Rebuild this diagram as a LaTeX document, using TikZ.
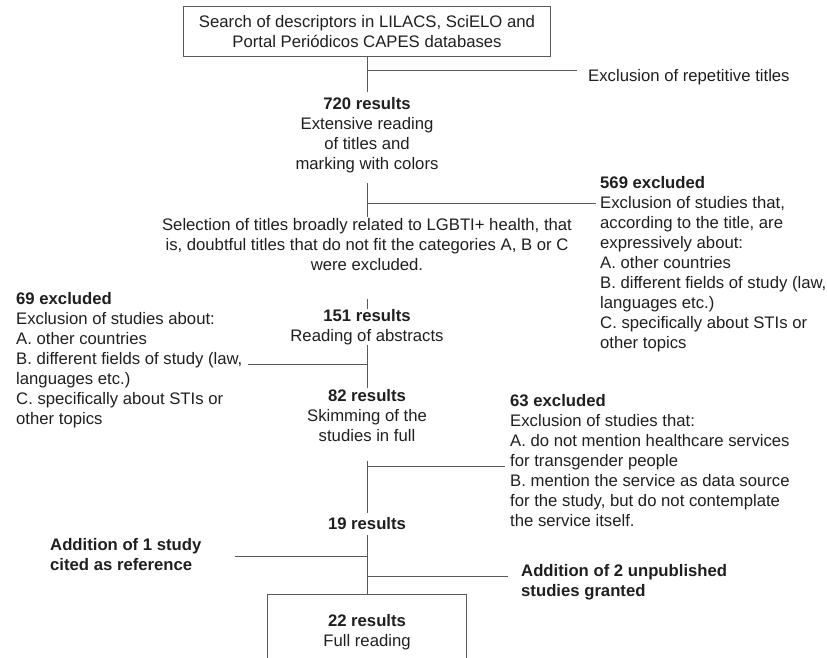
\documentclass[tikz,border=0pt]{standalone}
\usepackage{fontspec}
\setmainfont{Liberation Sans}
\usetikzlibrary{positioning}
\newcommand*{\fsize}{\fontsize{16.7}{20}\selectfont}

\begin{document}
\begin{tikzpicture}[x=1pt,y=-1pt,
    txt/.style={inner sep=0pt,font=\fsize,text=black!88,execute at begin node=\strut},
    mid/.style={txt,align=center,anchor=north},
    side/.style={txt,align=left,anchor=north west},
    frame/.style={draw=black!65,line width=1pt,inner sep=0pt,font=\fsize,text=black!88,align=center},
    link/.style={draw=black!65,line width=1pt}]
    \useasboundingbox (0,0) rectangle (827,658);
    \clip (0,0) rectangle (827,658);
    \node[frame,minimum width=367pt,minimum height=50pt] (search) at (367,32) {Search of descriptors in LILACS, SciELO and\\Portal Periódicos CAPES databases};
    \node[side] (rep) at (588,67) {Exclusion of repetitive titles};
    \node[mid] (r720) at (367,97) {\textbf{720 results}\\Extensive reading\\of titles and\\marking with colors};
    \node[side] (ex569) at (600,176) {\textbf{569 excluded}\\Exclusion of studies that,\\according to the title, are\\expressively about:\\A. other countries\\B. different fields of study (law,\\languages etc.)\\C. specifically about STIs or\\other topics};
    \node[mid] (sel) at (367,218) {Selection of titles broadly related to LGBTI+ health, that\\is, doubtful titles that do not fit the categories A, B or C\\were excluded.};
    \node[side] (ex69) at (16,292) {\textbf{69 excluded}\\Exclusion of studies about:\\A. other countries\\B. different fields of study (law,\\languages etc.)\\C. specifically about STIs or\\other topics};
    \node[mid] (r151) at (367,309) {\textbf{151 results}\\Reading of abstracts};
    \node[mid] (r82) at (367,389) {\textbf{82 results}\\Skimming of the\\studies in full};
    \node[side] (ex63) at (510,394) {\textbf{63 excluded}\\Exclusion of studies that:\\A. do not mention healthcare services\\for transgender people\\B. mention the service as data source\\for the study, but do not contemplate\\the service itself.};
    \node[mid] (r19) at (367,515) {\textbf{19 results}};
    \node[side,font=\fsize\bfseries] (add1) at (50,538) {Addition of 1 study\\cited as reference};
    \node[side,font=\fsize\bfseries] (add2) at (521,564) {Addition of 2 unpublished\\studies granted};
    \node[frame,minimum width=199pt,minimum height=76pt,anchor=north] (full) at (367,594) {\textbf{22 results}\\Full reading};
    \coordinate (j1) at (367,71);
    \coordinate (j2) at (367,203);
    \coordinate (j4) at (367,364);
    \coordinate (j5) at (367,466);
    \coordinate (j6) at (367,556);
    \coordinate (j7) at (367,576);
    \path[link]
    (search.south) edge[shorten >=5pt] (r720.north)
    (r720.south) edge[shorten <=7.5pt,shorten >=1pt] (sel.north)
    (sel.south) edge[shorten <=22pt] (r151.north)
    ([yshift=2.5pt]r151.south) edge[shorten >=1pt] (r82.north)
    (r82.south) edge[shorten <=13pt,shorten >=2pt] (r19.north)
    (r19.south) edge (full.north)
    (j1) edge[shorten >=11pt] (j1 -| rep.west)
    (j2) edge[shorten >=4pt] (j2 -| ex569.west)
    (j4) edge[shorten >=5pt] (j4 -| ex69.east)
    (j5) edge[shorten >=5pt] (j5 -| ex63.west)
    (j6) edge[shorten >=33pt] (j6 -| add1.east)
    (j7) edge[shorten >=13pt] (j7 -| add2.west)
    ;
\end{tikzpicture}
\end{document}
